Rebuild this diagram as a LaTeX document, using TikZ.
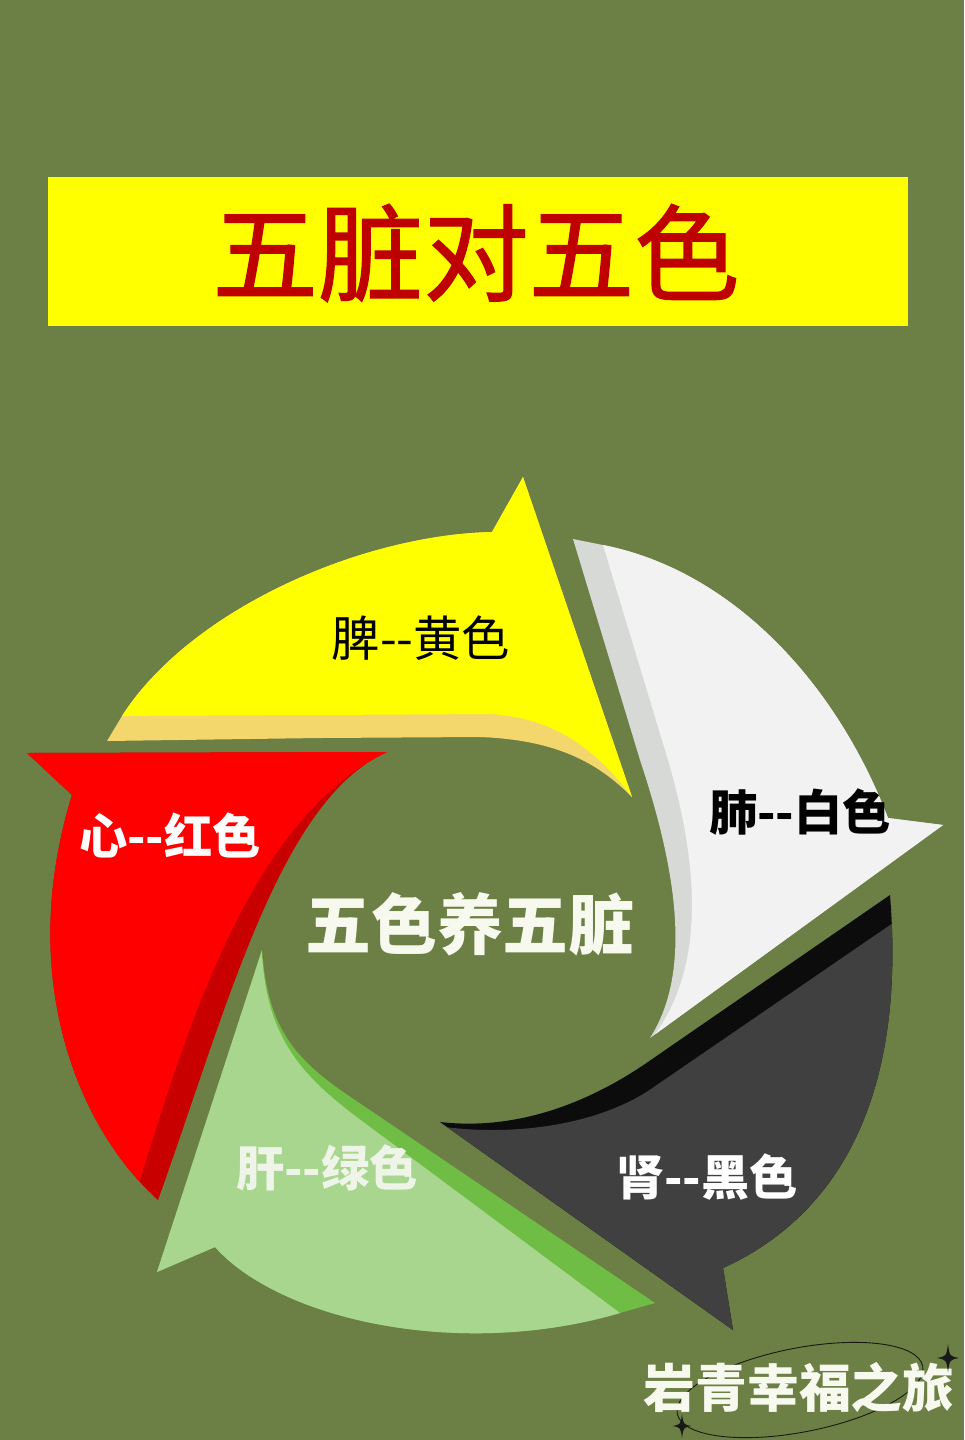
\documentclass[tikz,border=0pt]{standalone}
\usepackage{fontspec}
\newfontfamily\cjk{Noto Sans CJK SC}
\newfontfamily\cjktitle[FakeBold=1.2]{Noto Sans CJK SC}
\definecolor{bg}{HTML}{6C7F44}
\definecolor{ttlbox}{HTML}{FFFF00}
\definecolor{ttltext}{HTML}{BE0000}
\definecolor{yface}{HTML}{FFFF00}
\definecolor{yband}{HTML}{F3D66C}
\definecolor{rface}{HTML}{FF0000}
\definecolor{rband}{HTML}{C80000}
\definecolor{wface}{HTML}{F2F2F2}
\definecolor{wband}{HTML}{D6D9D6}
\definecolor{kface}{HTML}{404040}
\definecolor{kband}{HTML}{0C0C0C}
\definecolor{gface}{HTML}{A8D68E}
\definecolor{gband}{HTML}{6FBD45}
\definecolor{cream}{HTML}{F7F9EE}
\definecolor{livertext}{HTML}{EEF5E8}
\newcommand\sparkle[3]{%
  \fill[black!90] (#1,#2-#3) .. controls (#1+0.12*#3,#2-0.12*#3) .. (#1+0.8*#3,#2)
    .. controls (#1+0.12*#3,#2+0.12*#3) .. (#1,#2+#3)
    .. controls (#1-0.12*#3,#2+0.12*#3) .. (#1-0.8*#3,#2)
    .. controls (#1-0.12*#3,#2-0.12*#3) .. (#1,#2-#3) -- cycle;}
\tikzset{
  lbl/.style={font=\cjk\fontsize{27.5pt}{30pt}\selectfont, inner sep=0pt},
  lblb/.style={font=\cjk\bfseries\fontsize{27.5pt}{30pt}\selectfont, inner sep=0pt},
}
\begin{document}
\begin{tikzpicture}[x={(0.02cm,0)},y={(0,-0.02cm)}]
\fill[bg] (0,0) rectangle (964,1440);
\useasboundingbox (0,0) rectangle (964,1440);

% title
\node[fill=ttlbox, minimum width=17.2cm, minimum height=2.98cm, inner sep=0pt] (titlebox) at (478,251.5) {};
\node[font=\cjktitle\fontsize{60pt}{64pt}\selectfont, text=ttltext, inner sep=0pt] (title) at (476,253) {五脏对五色};

% ---------- yellow (spleen)
\def\ypath{(107,741) -- (122,716) .. controls (190,610) and (360,535) .. (492,532) -- (523,477) -- (632,797) .. controls (600,765) and (560,740) .. (480,737) -- (320,738) -- cycle}
\fill[yband] \ypath;
\begin{scope}
\clip \ypath;
\fill[yface] (90,450) -- (90,716) -- (320,715) -- (490,714) .. controls (560,718) and (600,755) .. (632,797) -- (700,800) -- (700,450) -- cycle;
\end{scope}

% ---------- red (heart)
\def\rpath{(27,753) -- (387,752) .. controls (280,800) and (228,1005) .. (158,1200) .. controls (80,1130) and (15,980) .. (72,795) -- cycle}
\fill[rband] \rpath;
\begin{scope}
\clip \rpath;
\fill[rface] (0,740) -- (400,740) -- (387,752) .. controls (258,815) and (195,1000) .. (140,1180) -- (130,1260) -- (0,1260) -- cycle;
\end{scope}

% ---------- white (lung)
\def\wpath{(573,539) -- (603,545) .. controls (730,570) and (835,680) .. (888,818) -- (943,825) -- (650,1038) .. controls (690,975) and (680,880) .. (640,760) -- cycle}
\fill[wband] \wpath;
\begin{scope}
\clip \wpath;
\fill[wface] (603,500) -- (603,545) -- (665,750) .. controls (705,880) and (700,975) .. (653,1037) -- (660,1070) -- (1000,1070) -- (1000,500) -- cycle;
\end{scope}

% ---------- dark (kidney)
\def\kpath{(440,1122) .. controls (510,1130) and (580,1108) .. (645,1064) -- (890,895) .. controls (905,1080) and (850,1210) .. (723,1268) -- (733,1330) -- cycle}
\fill[kband] \kpath;
\begin{scope}
\clip \kpath;
\fill[kface] (420,1128) -- (445,1127) .. controls (515,1136) and (595,1125) .. (648,1091) -- (893,923) -- (960,880) -- (960,1400) -- (420,1400) -- cycle;
\end{scope}

% ---------- green (liver)
\def\gpath{(262,950) -- (157,1272) -- (215,1247) .. controls (280,1320) and (460,1360) .. (620,1313) -- (655,1303) -- (355,1100) .. controls (295,1060) and (268,1030) .. (262,950) -- cycle}
\fill[gband] \gpath;
\begin{scope}
\clip \gpath;
\fill[gface] (262,930) -- (262,952) .. controls (266,1040) and (305,1078) .. (358,1118) -- (620,1313) -- (640,1360) -- (100,1360) -- (100,930) -- cycle;
\end{scope}

% ---------- labels
\node[lbl, text=black] (spleen) at (421,638) {脾--黄色};
\node[lblb, text=black] (lung) at (800,812) {肺--白色};
\node[lblb, text=white] (heart) at (170,835) {心--红色};
\node[lblb, text=livertext] (liver) at (327,1168) {肝--绿色};
\node[lblb, text=white] (kidney) at (707,1177) {肾--黑色};
\node[font=\cjk\bfseries\fontsize{37.5pt}{40pt}\selectfont, text=cream, inner sep=0pt] (center) at (470,924) {五色养五脏};

% ---------- signature
\draw[line width=0.5pt, black!80!bg, rotate around={11:(800,1390)}] (800,1390) ellipse [x radius=125, y radius=42];
\node[font=\cjk\bfseries\fontsize{29.5pt}{32pt}\selectfont, text=cream, inner sep=0pt] (sign) at (799,1388) {岩青幸福之旅};
\sparkle{948}{1358}{14}
\sparkle{682}{1426}{12}
\end{tikzpicture}
\end{document}
